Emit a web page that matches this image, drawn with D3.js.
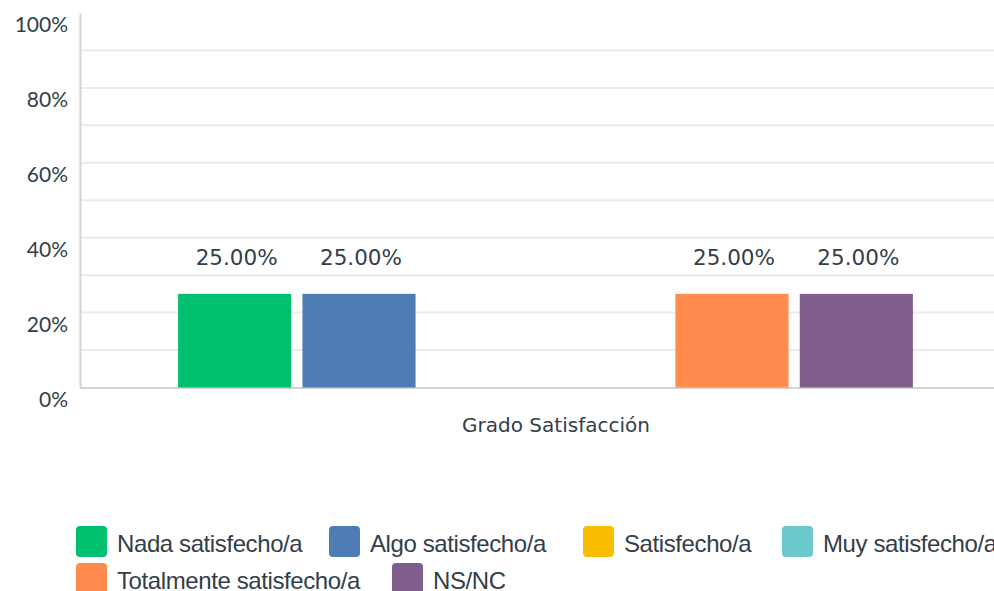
<!DOCTYPE html>
<html>
<head>
<meta charset="utf-8">
<script src="https://cdn.jsdelivr.net/npm/d3@7"></script>
<style>
  html, body { margin: 0; padding: 0; background: #fff; }
  svg { display: block; }
</style>
</head>
<body>
<svg id="chart" width="994" height="591"></svg>
<script>
const categories = ["Grado Satisfacción"];
const seriesNames = ["Nada satisfecho/a", "Algo satisfecho/a", "Satisfecho/a", "Muy satisfecho/a", "Totalmente satisfecho/a", "NS/NC"];
const seriesValues = [25, 25, 0, 0, 25, 25];
const seriesColors = ["#00BF6F", "#507CB6", "#F9BE00", "#6BC8CD", "#FF8B4F", "#7F5E8E"];
const yTicks = [0, 20, 40, 60, 80, 100];
const yGrid = [10, 20, 30, 40, 50, 60, 70, 80, 90];

const svg = d3.select("#chart");
const textColor = "#333e48";
const plotLeft = 80, plotRight = 1011, plotTop = 13, plotBottom = 387.5;

const y = d3.scaleLinear().domain([0, 100]).range([plotBottom, plotTop]);
const x0 = d3.scaleBand().domain(categories).range([plotLeft, plotRight]).paddingOuter(0.124).paddingInner(0);
const x1 = d3.scaleBand().domain(seriesNames).range([0, x0.bandwidth()]).paddingInner(0.09).paddingOuter(0.045);

// gridlines
svg.append("g").selectAll("line").data(yGrid).join("line")
  .attr("x1", plotLeft).attr("x2", 994)
  .attr("y1", d => y(d)).attr("y2", d => y(d))
  .attr("stroke", "#ebebeb").attr("stroke-width", 2);

// y axis
const yAxis = d3.axisLeft(y).tickValues(yTicks).tickFormat(d => d + "%").tickSize(0).tickPadding(12);
const gy = svg.append("g").attr("transform", `translate(${plotLeft},0)`).call(yAxis);
gy.select(".domain").attr("stroke", "#d4d4d4").attr("stroke-width", 2);
gy.selectAll("text").attr("fill", textColor).attr("font-family", "Lato, sans-serif")
  .attr("font-size", 21).attr("dy", "0.32em").attr("y", 12).attr("x", -12);

// x axis line
svg.append("line").attr("x1", plotLeft).attr("x2", 994).attr("y1", plotBottom + 0.5).attr("y2", plotBottom + 0.5)
  .attr("stroke", "#d4d4d4").attr("stroke-width", 2);

// bars
const data = seriesNames.map((s, i) => ({ cat: categories[0], name: s, value: seriesValues[i], color: seriesColors[i] }));
const g = svg.append("g");
g.selectAll("rect").data(data.filter(d => d.value > 0)).join("rect")
  .attr("x", d => x0(d.cat) + x1(d.name))
  .attr("y", d => y(d.value))
  .attr("width", x1.bandwidth())
  .attr("height", d => plotBottom - y(d.value))
  .attr("fill", d => d.color);

g.selectAll("text").data(data.filter(d => d.value > 0)).join("text")
  .attr("x", d => x0(d.cat) + x1(d.name) + x1.bandwidth() / 2 + 2)
  .attr("y", d => y(d.value) - 29)
  .attr("text-anchor", "middle")
  .attr("font-family", "DejaVu Sans, sans-serif").attr("font-size", 21.5)
  .attr("fill", textColor)
  .text(d => d.value.toFixed(2) + "%");

// x axis title
svg.append("text").attr("x", 556).attr("y", 432).attr("text-anchor", "middle")
  .attr("font-family", "DejaVu Sans, sans-serif").attr("font-size", 20).attr("fill", textColor)
  .text(categories[0]);

// legend
const legendX = [76, 329, 583, 782, 76, 392];
const legendRow = [0, 0, 0, 0, 1, 1];
const lg = svg.append("g");
seriesNames.forEach((s, i) => {
  const yy = 526 + legendRow[i] * 37;
  lg.append("rect").attr("x", legendX[i]).attr("y", yy).attr("width", 31).attr("height", 31)
    .attr("rx", 4).attr("fill", seriesColors[i]);
  lg.append("text").attr("x", legendX[i] + 41).attr("y", yy + 26)
    .attr("font-family", "Liberation Sans, Arial, sans-serif").attr("font-size", 24)
    .attr("letter-spacing", -0.4)
    .attr("fill", textColor).text(s);
});
</script>
</body>
</html>
